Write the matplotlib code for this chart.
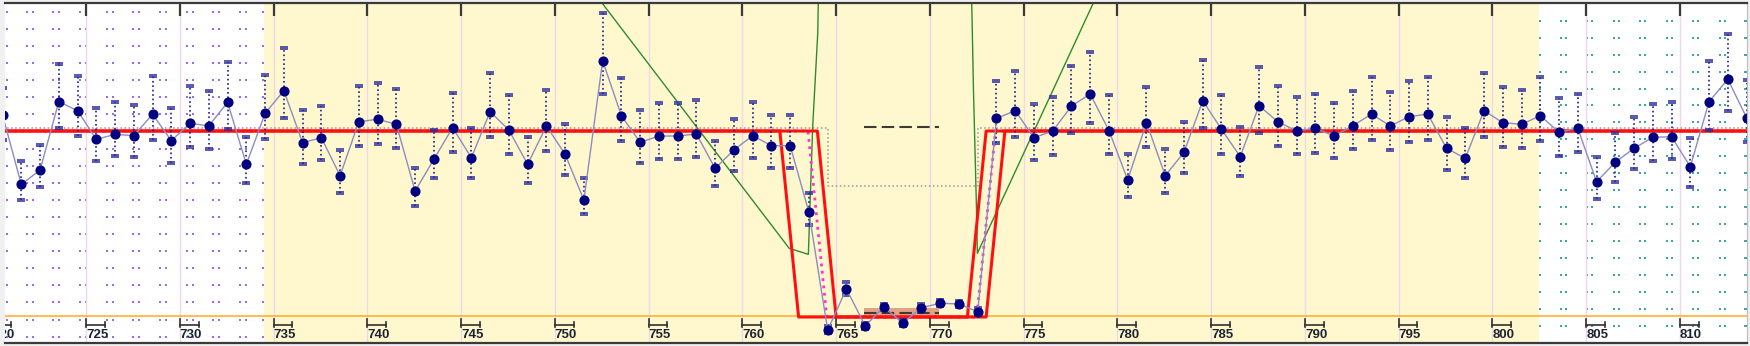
import numpy as np
import matplotlib
matplotlib.use('Agg')
import matplotlib.pyplot as plt
from matplotlib.path import Path
from matplotlib.patches import Rectangle
import matplotlib.transforms as mtransforms

# ---- observed points (epoch, relative flux, error bar top / bottom) ----
epochs = np.arange(720, 814)
flux = [1.00086, 0.99713, 0.99790, 1.00158, 1.00109, 0.99955, 0.99982, 0.99975, 1.00090, 0.99948,
        1.00041, 1.00028, 1.00154, 0.99821, 1.00095, 1.00217, 0.99937, 0.99964, 0.99760, 1.00050,
        1.00063, 1.00036, 0.99677, 0.99848, 1.00018, 0.99856, 1.00104, 1.00005, 0.99821, 1.00027,
        0.99875, 0.99629, 1.00378, 1.00082, 0.99939, 0.99973, 0.99973, 0.99984, 0.99799, 0.99898,
        0.99975, 0.99921, 0.99921, 0.99563, 0.98930, 0.99151, 0.98952, 0.99055, 0.98966, 0.99050,
        0.99074, 0.99070, 0.99028, 1.00068, 1.00109, 0.99964, 1.00000, 1.00134, 1.00199, 1.00002,
        0.99737, 1.00045, 0.99760, 0.99885, 1.00163, 1.00009, 0.99862, 1.00136, 1.00050, 1.00000,
        1.00015, 0.99973, 1.00028, 1.00091, 1.00027, 1.00077, 1.00091, 0.99907, 0.99853, 1.00109,
        1.00045, 1.00036, 1.00082, 0.99993, 1.00015, 0.99727, 0.99832, 0.99907, 0.99966, 0.99969,
        0.99808, 1.00158, 1.00278, 1.00072]
flux_hi = [1.00231, 0.99839, 0.99925, 1.00360, 1.00296, 1.00122, 1.00158, 1.00140, 1.00296, 1.00125,
           1.00242, 1.00217, 1.00369, 0.99969, 1.00301, 1.00445, 1.00113, 1.00134, 0.99898, 1.00242,
           1.00256, 1.00224, 0.99799, 1.00005, 1.00206, 1.00018, 1.00310, 1.00194, 0.99969, 1.00220,
           1.00036, 0.99746, 1.00636, 1.00287, 1.00113, 1.00152, 1.00149, 1.00167, 0.99948, 1.00065,
           1.00158, 1.00086, 1.00086, 0.99665, 0.98950, 0.99187, 0.98970, 0.99072, 0.98984, 0.99068,
           0.99092, 0.99088, 0.99046, 1.00269, 1.00323, 1.00145, 1.00184, 1.00349, 1.00423, 1.00194,
           0.99875, 1.00235, 0.99902, 1.00050, 1.00382, 1.00194, 1.00023, 1.00346, 1.00242, 1.00184,
           1.00197, 1.00152, 1.00217, 1.00289, 1.00211, 1.00269, 1.00289, 1.00077, 1.00015, 1.00313,
           1.00238, 1.00220, 1.00289, 1.00176, 1.00197, 0.99862, 0.99988, 1.00077, 1.00145, 1.00154,
           0.99961, 1.00376, 1.00520, 1.00274]
flux_lo = [0.99952, 0.99627, 0.99701, 1.00015, 0.99973, 0.99839, 0.99867, 0.99862, 0.99952, 0.99830,
           0.99912, 0.99902, 1.00009, 0.99719, 0.99957, 1.00068, 0.99823, 0.99844, 0.99668, 0.99919,
           0.99928, 0.99907, 0.99597, 0.99746, 0.99889, 0.99749, 0.99966, 0.99876, 0.99719, 0.99894,
           0.99763, 0.99554, 1.00197, 0.99946, 0.99826, 0.99848, 0.99848, 0.99859, 0.99704, 0.99785,
           0.99853, 0.99803, 0.99803, 0.99495, 0.98915, 0.99120, 0.98937, 0.99040, 0.98951, 0.99035,
           0.99059, 0.99055, 0.99013, 0.99937, 0.99969, 0.99844, 0.99871, 0.99991, 1.00045, 0.99876,
           0.99647, 0.99916, 0.99668, 0.99776, 1.00015, 0.99876, 0.99758, 0.99991, 0.99919, 0.99876,
           0.99883, 0.99853, 0.99902, 0.99952, 0.99898, 0.99942, 0.99952, 0.99790, 0.99749, 0.99969,
           0.99912, 0.99907, 0.99948, 0.99867, 0.99885, 0.99633, 0.99727, 0.99794, 0.99840, 0.99848,
           0.99701, 1.00005, 1.00109, 0.99942]
point_offset = 0.55   # points sit a little past the epoch tick

# ---- model curves ----
depth_level = 0.990
upper_x = [720, 764.0, 765.0, 772.0, 773.0, 815]
upper_y = [1.0, 1.0, 0.990, 0.990, 1.0, 1.0]
lower_x = [720, 762.0, 763.0, 773.0, 774.0, 815]
lower_y = [1.0, 1.0, 0.990, 0.990, 1.0, 1.0]
mid_x = [720, 763.5, 764.5, 772.5, 773.5, 815]
mid_y = [1.0, 1.0, 0.990, 0.990, 1.0, 1.0]
box_x = [720, 764.55, 764.55, 772.55, 772.55, 815]
box_y = [1.00018, 1.00018, 0.99706, 0.99706, 1.00018, 1.00018]
green_x = [752.05, 762.5, 763.52, 763.75, 764.02, 764.06]
green_y = [1.0075, 0.99369, 0.99337, 1.00023, 1.00525, 1.0075]
green2_x = [772.22, 772.32, 772.50, 772.53, 779.0]
green2_y = [1.0075, 1.00238, 0.99522, 0.99342, 1.0075]
dash_x = [766.5, 770.5]
dash_top = 1.00023
dash_bottom = 0.99023
band_lo, band_hi = 0.98998, 0.99050
yellow_span = (734.5, 802.5)
tick_values = list(range(720, 815, 5))

# pixel <-> data helpers (reference geometry)
PXU = 18.753
def px2x(p):
    return 725 + (p - 86) / PXU

def py2y(p):
    return 1 - (p - 131) / 18600.0

plt.rcParams['font.family'] = ['Liberation Sans', 'DejaVu Sans']

fig = plt.figure(figsize=(17.5, 3.46), dpi=100)
fig.patch.set_facecolor('#F0F0F0')
ax = fig.add_axes([5 / 1750, 3 / 346, 1742 / 1750, 340 / 346])
ax.set_facecolor('white')

ax.axvspan(*yellow_span, color='#FFF8CE', zorder=0, lw=0)

# dotted background pattern in the white parts
lx = [6.7] + [c for k in range(1, 10) for c in (26.67 * k, 26.67 * k + 6)] + [263.3]
ly = [11.7 + 17.1 * j for j in range(20)]
gx, gy = np.meshgrid([px2x(p) for p in lx], [py2y(p) for p in ly])
ax.scatter(gx.ravel(), gy.ravel(), s=2.2, marker='s', color='#A366EE', lw=0, zorder=0.5)
rx = [1540] + [c for k in range(8) for c in (1560.7 + 26.55 * k, 1565.7 + 26.55 * k)] + [1745]
ry = [20.7 + 16.95 * j for j in range(19)]
gx, gy = np.meshgrid([px2x(p) for p in rx], [py2y(p) for p in ry])
ax.scatter(gx.ravel(), gy.ravel(), s=2.2, marker='s', color='#3AA8A8', lw=0, zorder=0.5)

for t in tick_values:
    ax.axvline(t, color='#EFD6EA', lw=1, zorder=0.6)

ax.axhline(depth_level + 0.00005, color='#FFB030', lw=1.2, zorder=1)
ax.plot(box_x, box_y, color='#999999', ls=':', lw=1.1, zorder=1.2)
ax.plot(green_x, green_y, color='#2E8B2E', lw=1, zorder=1.3)
ax.plot(green2_x, green2_y, color='#2E8B2E', lw=1, zorder=1.3)

ax.add_patch(Rectangle((dash_x[0], band_lo), dash_x[1] - dash_x[0], band_hi - band_lo,
                       facecolor='#E2A285', edgecolor='none', zorder=1.4))
ax.plot(dash_x, [dash_top, dash_top], color='#3C3C30', lw=1.5, dashes=(6, 2.5), zorder=1.5)
ax.plot(dash_x, [dash_bottom, dash_bottom], color='#3C3C30', lw=1.5, dashes=(6, 2.5), zorder=1.5)

ax.plot(mid_x, mid_y, color='#FF33CC', ls=':', lw=2, zorder=1.6)
ax.plot(upper_x, upper_y, color='#FF1010', lw=2.2, zorder=1.8)
ax.plot(lower_x, lower_y, color='#FF1010', lw=2.2, zorder=1.8)

# observed points
xp = epochs + point_offset
ax.vlines(xp, flux_lo, flux_hi, colors='#1C1C8C', linestyles=':', lw=1.2, zorder=2)
cap = Path([(-1, 0.25), (1, 0.25), (-1, -0.25), (1, -0.25)],
           [Path.MOVETO, Path.LINETO, Path.MOVETO, Path.LINETO])
ax.plot(xp, flux_hi, ls='none', marker=cap, ms=5.5, mew=1.1, color='#2A2A9A', zorder=2)
ax.plot(xp, flux_lo, ls='none', marker=cap, ms=5.5, mew=1.1, color='#2A2A9A', zorder=2)
ax.plot(xp, flux, color='#8C8CC4', lw=1, zorder=2.1)
ax.plot(xp, flux, ls='none', marker='o', ms=6.3, color='#000080', zorder=2.2)

# axis decoration: top ticks, bottom brackets and labels
ax.set_xticks(tick_values)
ax.set_yticks([])
ax.tick_params(axis='x', top=True, bottom=False, direction='in', length=9, width=1.6,
               color='#3A3A3A', labelbottom=False)
trans = mtransforms.blended_transform_factory(ax.transData, ax.transAxes)
def fy(p):
    return (343 - p) / 340.0
for t in tick_values:
    ax.plot([t, t], [fy(319), fy(327)], color='#303030', lw=1.2, transform=trans, zorder=3)
    ax.plot([t, t + 1], [fy(325), fy(325)], color='#303030', lw=1.2, transform=trans, zorder=3)
    ax.plot([t + 1, t + 1], [fy(322), fy(327)], color='#303030', lw=1.2, transform=trans, zorder=3)
    ax.text(t, fy(335.5), str(t), transform=trans, ha='left', va='center', fontsize=9.5,
            fontweight='bold', color='#1C2433', clip_on=True, zorder=3)

# limits last, set_xticks would otherwise widen them
ax.set_xlim(px2x(5), px2x(1747))
ax.set_ylim(py2y(343), py2y(3))

for side in ['top', 'bottom']:
    ax.spines[side].set_color('#3A3A3A')
    ax.spines[side].set_linewidth(1.6)
ax.spines['left'].set_visible(False)
ax.spines['right'].set_color('#BBBBBB')

fig.savefig('out.png', dpi=100, facecolor=fig.get_facecolor())
